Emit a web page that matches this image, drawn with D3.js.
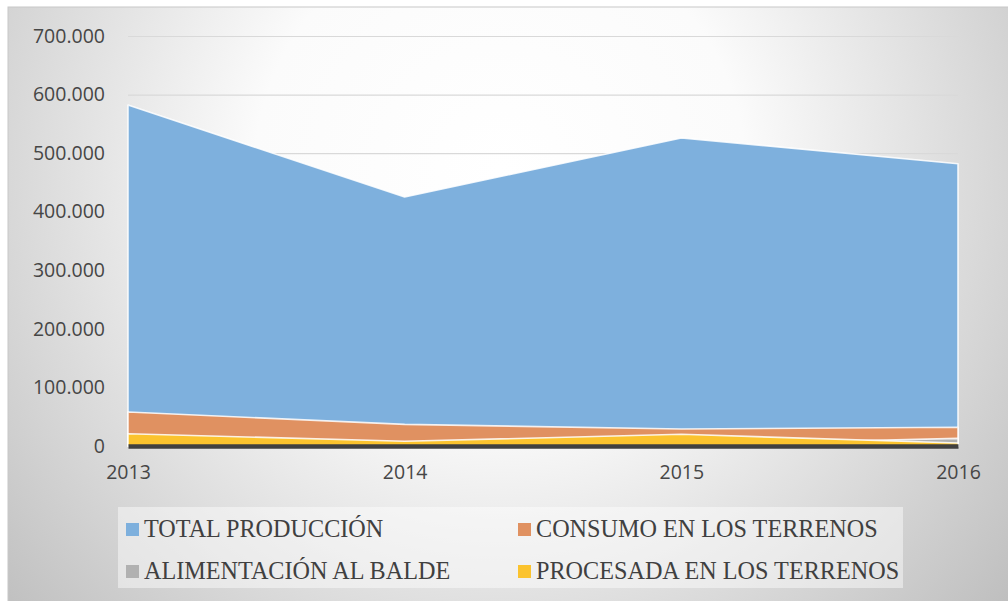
<!DOCTYPE html>
<html>
<head>
<meta charset="utf-8">
<script src="https://d3js.org/d3.v7.min.js"></script>
<style>
    body { margin: 0; background: #ffffff; }
    svg { display: block; }
</style>
</head>
<body>
<script>
(function(){

//chart data
var years = ["2013", "2014", "2015", "2016"];
var totalProduccion = [582000, 425000, 526000, 482000];
var consumoTerrenos = [58000, 37000, 29000, 32000];
var alimentacionBalde = [5000, 3000, 2000, 13000];
var procesadaTerrenos = [21000, 8000, 20000, 5000];
var yTicks = [0, 100000, 200000, 300000, 400000, 500000, 600000, 700000];

var seriesNames = ["TOTAL PRODUCCIÓN", "CONSUMO EN LOS TERRENOS", "ALIMENTACIÓN AL BALDE", "PROCESADA EN LOS TERRENOS"];
var seriesValues = [totalProduccion, consumoTerrenos, alimentacionBalde, procesadaTerrenos];
var seriesColors = ["#7eb0dd", "#e09161", "#b1b1b1", "#fbc32e"];

window.onload = setChart();

function setChart(){
    var width = 1008,
        height = 601;

    var svg = d3.select("body")
        .append("svg")
        .attr("width", width)
        .attr("height", height);

    //radial background like the office chart area
    var defs = svg.append("defs");
    var grad = defs.append("radialGradient")
        .attr("id", "bg")
        .attr("gradientUnits", "userSpaceOnUse")
        .attr("cx", 500)
        .attr("cy", 170)
        .attr("r", 700);
    grad.append("stop").attr("offset", "0%").attr("stop-color", "#ffffff");
    grad.append("stop").attr("offset", "35%").attr("stop-color", "#fbfbfb");
    grad.append("stop").attr("offset", "100%").attr("stop-color", "#bababa");

    svg.append("rect")
        .attr("x", 8)
        .attr("y", 7)
        .attr("width", 1010)
        .attr("height", 600)
        .attr("fill", "url(#bg)")
        .attr("stroke", "#c8c8c8")
        .attr("stroke-width", 1);

    var x = d3.scalePoint()
        .domain(years)
        .range([128, 958]);

    var y = d3.scaleLinear()
        .domain([0, 700000])
        .range([446, 36]);

    //gridlines
    svg.selectAll(".grid")
        .data(yTicks.slice(1))
        .enter()
        .append("line")
        .attr("class", "grid")
        .attr("x1", 128)
        .attr("x2", 958)
        .attr("y1", function(d){ return y(d) + 0.5; })
        .attr("y2", function(d){ return y(d) + 0.5; })
        .attr("stroke", "#d9d9d9")
        .attr("stroke-width", 1.2);

    //y axis labels
    var fmt = function(d){
        return d === 0 ? "0" : d3.format(",")(d).replace(/,/g, ".");
    };
    var yAxis = svg.append("g")
        .attr("transform", "translate(128,0)")
        .call(d3.axisLeft(y).tickValues(yTicks).tickFormat(fmt).tickSize(0).tickPadding(23));
    yAxis.select(".domain").remove();
    yAxis.selectAll("text")
        .attr("font-family", "'Open Sans', sans-serif")
        .attr("font-size", "19.5px")
        .attr("fill", "#464646");

    //areas, drawn in series order so later ones sit on top
    var area = d3.area()
        .x(function(d, i){ return x(years[i]); })
        .y0(y(0))
        .y1(function(d){ return y(d); });

    svg.selectAll(".area")
        .data(seriesValues)
        .enter()
        .append("path")
        .attr("class", "area")
        .attr("d", area)
        .attr("fill", function(d, i){ return seriesColors[i]; })
        .attr("stroke", "#ffffff")
        .attr("stroke-opacity", 0.85)
        .attr("stroke-width", 1.6)
        .attr("stroke-linejoin", "round");

    //x axis, thick dark line
    var xAxis = svg.append("g")
        .attr("transform", "translate(0," + y(0) + ")")
        .call(d3.axisBottom(x).tickSize(0).tickPadding(19));
    xAxis.select(".domain")
        .attr("stroke", "#404040")
        .attr("stroke-width", 4.5);
    xAxis.selectAll("text")
        .attr("font-family", "'Open Sans', sans-serif")
        .attr("font-size", "19.5px")
        .attr("fill", "#464646");

    setLegend(svg);
}

function setLegend(svg){
    svg.append("rect")
        .attr("x", 118)
        .attr("y", 507)
        .attr("width", 785)
        .attr("height", 81)
        .attr("fill", "#ffffff")
        .attr("fill-opacity", 0.45);

    var cols = [126, 518],
        rows = [523, 565];

    var items = svg.selectAll(".legend")
        .data(seriesNames)
        .enter()
        .append("g")
        .attr("class", "legend")
        .attr("transform", function(d, i){
            return "translate(" + cols[i % 2] + "," + rows[Math.floor(i / 2)] + ")";
        });

    items.append("rect")
        .attr("width", 13)
        .attr("height", 13)
        .attr("fill", function(d, i){ return seriesColors[i]; });

    items.append("text")
        .attr("x", 18)
        .attr("y", 14)
        .attr("font-family", "'Liberation Serif', 'Times New Roman', serif")
        .attr("font-size", "24.2px")
        .attr("fill", "#404040")
        .text(function(d){ return d; });
}

})();
</script>
</body>
</html>
